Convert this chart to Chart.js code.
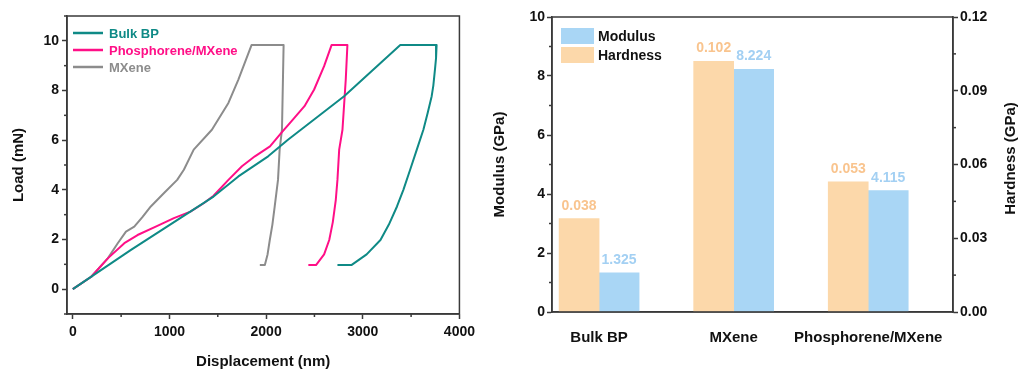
<!DOCTYPE html>
<html>
<head>
<meta charset="utf-8">
<script src="https://cdn.jsdelivr.net/npm/chart.js@4.4.1/dist/chart.umd.min.js"></script>
<style>
  html, body { margin: 0; padding: 0; background: #fff; }
  #wrap { position: relative; width: 1019px; height: 371px; }
  #load-chart { position: absolute; left: 0; top: 0; }
  #bar-chart { position: absolute; left: 480px; top: 0; }
</style>
</head>
<body>
<div id="wrap">
  <canvas id="load-chart" width="480" height="371"></canvas>
  <canvas id="bar-chart" width="539" height="371"></canvas>
</div>
<script>
// nanoindentation load-displacement curves (nm, mN)
const bulkDisp = [0, 602, 1456, 1713, 2021, 2226, 2807, 3388, 3764, 3758, 3747, 3730, 3713, 3672, 3627, 3559, 3490, 3420, 3354, 3270, 3183, 3040, 2882, 2738];
const bulkLoad = [0, 1.58, 3.73, 4.54, 5.35, 6.02, 7.77, 9.83, 9.83, 9.3, 8.85, 8.2, 7.77, 7.1, 6.42, 5.62, 4.81, 4.0, 3.33, 2.6, 1.98, 1.4, 0.97, 0.97];

const phosDisp = [0, 191, 362, 533, 670, 875, 1046, 1217, 1354, 1456, 1610, 1750, 1884, 2040, 2157, 2270, 2397, 2497, 2600, 2677, 2841, 2824, 2790, 2756, 2738, 2721, 2690, 2653, 2600, 2516, 2437];
const phosLoad = [0, 0.50, 1.24, 1.85, 2.18, 2.55, 2.86, 3.12, 3.46, 3.76, 4.40, 4.95, 5.35, 5.75, 6.29, 6.8, 7.37, 8.04, 8.98, 9.83, 9.83, 8.44, 6.42, 5.62, 4.40, 3.6, 2.7, 1.98, 1.4, 0.97, 0.97];

const mxeneDisp = [0, 191, 362, 465, 550, 636, 720, 807, 944, 1080, 1149, 1251, 1439, 1610, 1713, 1849, 2181, 2164, 2140, 2123, 2089, 2065, 2038, 2015, 1987, 1935];
const mxeneLoad = [0, 0.50, 1.24, 1.85, 2.32, 2.52, 2.9, 3.33, 3.87, 4.40, 4.81, 5.62, 6.42, 7.5, 8.44, 9.83, 9.83, 6.42, 5.62, 4.40, 3.33, 2.6, 1.98, 1.4, 0.97, 0.97];

const loadTicks = [0, 2, 4, 6, 8, 10];
const dispTicks = [0, 1000, 2000, 3000, 4000];

// mechanical properties per sample (GPa)
const categories = ['Bulk BP', 'MXene', 'Phosphorene/MXene'];
const hardness = [0.038, 0.102, 0.053];
const modulus = [1.325, 8.224, 4.115];
const modulusTicks = [0, 2, 4, 6, 8, 10];
const hardnessTicks = [0, 0.03, 0.06, 0.09, 0.12];

const AXIS = '#3a3a3a';
const TEAL = '#0f8a86';
const PINK = '#ff0f87';
const GREY = '#8c8c8c';
const PEACH = '#fcd8aa';
const SKY = '#a9d6f5';
const PEACH_TEXT = '#f9c48e';
const SKY_TEXT = '#a3d0f3';
const FONT = '"Liberation Sans", Arial, sans-serif';

Chart.defaults.font.family = FONT;
Chart.defaults.font.weight = 'bold';
Chart.defaults.font.size = 14;
Chart.defaults.color = '#111';

function toPoints(xs, ys) {
    return xs.map((x, i) => ({ x, y: ys[i] }));
}

// half-step positions between major ticks, kept inside [min, max]
function midpoints(ticks, min, max) {
    const step = ticks[1] - ticks[0];
    const out = [];
    for (let v = ticks[0] - step / 2; v <= max + 1e-9; v += step) {
        if (v >= min - 1e-9) out.push(Number(v.toFixed(6)));
    }
    return out;
}

function setTicks(values) {
    return (scale) => { scale.ticks = values.map((value) => ({ value })); };
}

function minorTicks(byScale, length) {
    return {
        id: 'minorTicks',
        afterDraw(chart) {
            const { ctx } = chart;
            ctx.save();
            ctx.strokeStyle = AXIS;
            ctx.lineWidth = 1.5;
            for (const [id, values] of Object.entries(byScale)) {
                const scale = chart.scales[id];
                for (const v of values) {
                    const p = scale.getPixelForValue(v);
                    ctx.beginPath();
                    if (scale.isHorizontal()) {
                        ctx.moveTo(p, scale.top);
                        ctx.lineTo(p, scale.top + length);
                    } else if (scale.position === 'left') {
                        ctx.moveTo(scale.right, p);
                        ctx.lineTo(scale.right - length, p);
                    } else {
                        ctx.moveTo(scale.left, p);
                        ctx.lineTo(scale.left + length, p);
                    }
                    ctx.stroke();
                }
            }
            ctx.restore();
        },
    };
}

const frame = {
    id: 'frame',
    afterDraw(chart) {
        const { ctx, chartArea: a } = chart;
        ctx.save();
        ctx.strokeStyle = AXIS;
        ctx.lineWidth = 1.5;
        ctx.strokeRect(a.left, a.top, a.right - a.left, a.bottom - a.top);
        ctx.restore();
    },
};

// line-sample legend with text in the series colour
const curveLegend = {
    id: 'curveLegend',
    afterDraw(chart) {
        const { ctx, chartArea: a } = chart;
        ctx.save();
        ctx.font = `bold 13px ${FONT}`;
        ctx.textBaseline = 'middle';
        ctx.lineWidth = 2.5;
        chart.data.datasets.forEach((ds, i) => {
            const y = a.top + 17 + i * 17;
            ctx.strokeStyle = ds.borderColor;
            ctx.beginPath();
            ctx.moveTo(a.left + 6, y);
            ctx.lineTo(a.left + 36, y);
            ctx.stroke();
            ctx.fillStyle = ds.borderColor;
            ctx.fillText(ds.label, a.left + 42, y + 1);
        });
        ctx.restore();
    },
};

new Chart(document.getElementById('load-chart'), {
    type: 'scatter',
    data: {
        datasets: [
            { label: 'Bulk BP', data: toPoints(bulkDisp, bulkLoad), borderColor: TEAL, showLine: true },
            { label: 'Phosphorene/MXene', data: toPoints(phosDisp, phosLoad), borderColor: PINK, showLine: true },
            { label: 'MXene', data: toPoints(mxeneDisp, mxeneLoad), borderColor: GREY, showLine: true },
        ],
    },
    options: {
        responsive: false,
        animation: false,
        layout: { padding: { top: 16, right: 17, left: 0, bottom: 0 } },
        elements: {
            point: { radius: 0 },
            line: { borderWidth: 2, tension: 0, borderJoinStyle: 'round' },
        },
        plugins: { legend: { display: false }, tooltip: { enabled: false } },
        scales: {
            x: {
                type: 'linear',
                min: -60,
                max: 4000,
                afterBuildTicks: setTicks(dispTicks),
                afterFit: (s) => { s.height = 57; },
                grid: { drawOnChartArea: false, tickLength: 5, tickColor: AXIS, tickWidth: 1.5 },
                border: { color: AXIS, width: 1.5 },
                ticks: { padding: 5, maxRotation: 0, autoSkip: false, callback: (value) => String(value) },
                title: { display: true, text: 'Displacement (nm)', font: { size: 15, weight: 'bold' }, padding: { top: 0, bottom: 0 } },
            },
            y: {
                type: 'linear',
                min: -1,
                max: 11,
                afterBuildTicks: setTicks(loadTicks),
                afterFit: (s) => { s.width = 67; },
                grid: { drawOnChartArea: false, tickLength: 5, tickColor: AXIS, tickWidth: 1.5 },
                border: { color: AXIS, width: 1.5 },
                ticks: { padding: 3, autoSkip: false },
                title: { display: true, text: 'Load (mN)', font: { size: 15, weight: 'bold' }, padding: { top: 10, bottom: 0 } },
            },
        },
    },
    plugins: [
        frame,
        curveLegend,
        minorTicks({ x: midpoints(dispTicks, -60, 4000), y: midpoints(loadTicks, -1, 11) }, 3),
    ],
});

// box legend, Modulus listed first
const barLegend = {
    id: 'barLegend',
    afterDraw(chart) {
        const { ctx, chartArea: a } = chart;
        const items = [['Modulus', SKY], ['Hardness', PEACH]];
        ctx.save();
        ctx.font = `bold 14px ${FONT}`;
        ctx.textBaseline = 'middle';
        items.forEach(([text, color], i) => {
            const top = a.top + 11 + i * 19;
            ctx.fillStyle = color;
            ctx.fillRect(a.left + 9, top, 33, 16);
            ctx.fillStyle = '#111';
            ctx.fillText(text, a.left + 46, top + 9);
        });
        ctx.restore();
    },
};

// value labels above each bar, read from the dataset values
const barValues = {
    id: 'barValues',
    afterDatasetsDraw(chart) {
        const { ctx } = chart;
        const colors = [PEACH_TEXT, SKY_TEXT];
        ctx.save();
        ctx.font = `bold 14px ${FONT}`;
        ctx.textAlign = 'center';
        ctx.textBaseline = 'alphabetic';
        chart.data.datasets.forEach((ds, d) => {
            ctx.fillStyle = colors[d];
            chart.getDatasetMeta(d).data.forEach((bar, i) => {
                ctx.fillText(ds.data[i].y.toFixed(3), bar.x, bar.y - 9);
            });
        });
        ctx.restore();
    },
};

// right-hand title, reading bottom to top like the left one
const hardnessTitle = {
    id: 'hardnessTitle',
    afterDraw(chart) {
        const { ctx, chartArea: a } = chart;
        ctx.save();
        ctx.font = `bold 15px ${FONT}`;
        ctx.fillStyle = '#111';
        ctx.textAlign = 'center';
        ctx.textBaseline = 'middle';
        ctx.translate(chart.width - 8, (a.top + a.bottom) / 2 - 6);
        ctx.rotate(-Math.PI / 2);
        ctx.fillText('Hardness (GPa)', 0, 0);
        ctx.restore();
    },
};

const categoryPos = categories.map((_, i) => i + 1);

new Chart(document.getElementById('bar-chart'), {
    type: 'bar',
    data: {
        datasets: [
            { label: 'Hardness', data: toPoints(categoryPos, hardness), yAxisID: 'yH', backgroundColor: PEACH },
            { label: 'Modulus', data: toPoints(categoryPos, modulus), yAxisID: 'yM', backgroundColor: SKY },
        ],
    },
    options: {
        responsive: false,
        animation: false,
        layout: { padding: { top: 17, right: 0, left: 0, bottom: 0 } },
        datasets: { bar: { barThickness: 40, grouped: true } },
        plugins: { legend: { display: false }, tooltip: { enabled: false } },
        scales: {
            x: {
                type: 'linear',
                offset: false,
                min: 0.65,
                max: 3.63,
                afterBuildTicks: setTicks(categoryPos),
                afterFit: (s) => { s.height = 59; },
                grid: { drawOnChartArea: false, drawTicks: false, offset: false },
                border: { color: AXIS, width: 1.5 },
                ticks: {
                    padding: 17,
                    maxRotation: 0,
                    autoSkip: false,
                    font: { size: 15, weight: 'bold' },
                    callback: (value) => categories[Math.round(value) - 1],
                },
            },
            yM: {
                type: 'linear',
                position: 'left',
                min: 0,
                max: 10,
                afterBuildTicks: setTicks(modulusTicks),
                afterFit: (s) => { s.width = 72; },
                grid: { drawOnChartArea: false, tickLength: 5, tickColor: AXIS, tickWidth: 1.5 },
                border: { color: AXIS, width: 1.5 },
                ticks: { padding: 2, autoSkip: false },
                title: { display: true, text: 'Modulus (GPa)', font: { size: 15, weight: 'bold' }, padding: { top: 11, bottom: 0 } },
            },
            yH: {
                type: 'linear',
                position: 'right',
                min: 0,
                max: 0.12,
                afterBuildTicks: setTicks(hardnessTicks),
                afterFit: (s) => { s.width = 66; },
                grid: { drawOnChartArea: false, tickLength: 5, tickColor: AXIS, tickWidth: 1.5 },
                border: { color: AXIS, width: 1.5 },
                ticks: { padding: 2, autoSkip: false, callback: (value) => value.toFixed(2) },
            },
        },
    },
    plugins: [
        frame,
        barLegend,
        barValues,
        hardnessTitle,
        minorTicks({ yM: midpoints(modulusTicks, 0, 10), yH: midpoints(hardnessTicks, 0, 0.12) }, 3),
    ],
});
</script>
</body>
</html>
